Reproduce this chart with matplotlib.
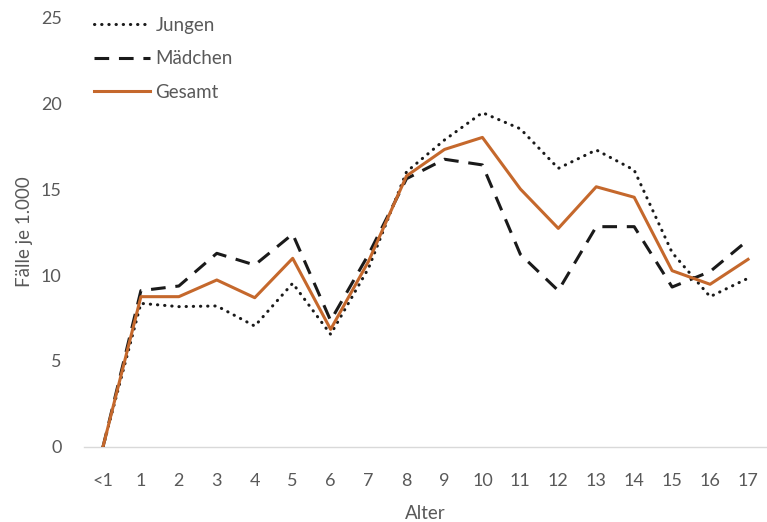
import matplotlib
matplotlib.use('Agg')
import matplotlib.pyplot as plt
import numpy as np

# === Data ===
alter = ['<1', '1', '2', '3', '4', '5', '6', '7', '8', '9',
         '10', '11', '12', '13', '14', '15', '16', '17']
jungen = [0, 8.35, 8.16, 8.2, 7.03, 9.52, 6.55, 10.4, 16.0, 17.85,
          19.44, 18.5, 16.2, 17.27, 16.1, 11.3, 8.74, 9.81]
maedchen = [0, 9.09, 9.36, 11.26, 10.58, 12.38, 7.35, 11.2, 15.6, 16.73,
            16.4, 11.2, 9.09, 12.81, 12.81, 9.3, 10.2, 12.03]
gesamt = [0, 8.74, 8.74, 9.71, 8.68, 10.97, 6.84, 10.8, 15.76, 17.3,
          18.0, 15.0, 12.71, 15.13, 14.52, 10.25, 9.46, 10.91]

_TEXT = '#595959'
_ORANGE = '#C5682C'
_BLACK = '#1a1a1a'
_AXIS = '#D9D9D9'

plt.rcParams['font.family'] = ['Lato', 'DejaVu Sans']

fig = plt.figure(figsize=(7.67, 5.22), dpi=100)
ax = fig.add_axes([0.1095, 0.1437, 0.8905, 0.8237])

x = np.arange(len(alter))
ax.plot(x, jungen, color=_BLACK, lw=2.2, ls=(0, (0.1, 2.25)),
        dash_capstyle='round', solid_capstyle='round', label='Jungen', zorder=3)
ax.plot(x, maedchen, color=_BLACK, lw=2.2, ls=(0, (4.8, 3.2)),
        label='Mädchen', zorder=3)
ax.plot(x, gesamt, color=_ORANGE, lw=2.2, label='Gesamt', zorder=4)

ax.set_xlim(-0.5, len(alter) - 0.5)
ax.set_ylim(0, 25)
ax.set_yticks([0, 5, 10, 15, 20, 25])
ax.set_xticks(x)
ax.set_xticklabels(alter)

for sp in ['top', 'right', 'left']:
    ax.spines[sp].set_visible(False)
ax.spines['bottom'].set_color(_AXIS)
ax.spines['bottom'].set_linewidth(1.0)
ax.tick_params(axis='both', length=0, colors=_TEXT, labelsize=13)
ax.tick_params(axis='x', pad=19)
ax.tick_params(axis='y', pad=16)

ax.set_xlabel('Alter', color=_TEXT, fontsize=13.5, labelpad=11)
ax.set_ylabel('Fälle je 1.000', color=_TEXT, fontsize=13.5, labelpad=6)

ax.legend(loc='upper left', bbox_to_anchor=(-0.01, 1.04), frameon=False,
          fontsize=13.5, labelcolor=_TEXT, handlelength=3.0, handletextpad=0.27,
          labelspacing=0.88)

fig.savefig('out.png', dpi=100, facecolor='white')
